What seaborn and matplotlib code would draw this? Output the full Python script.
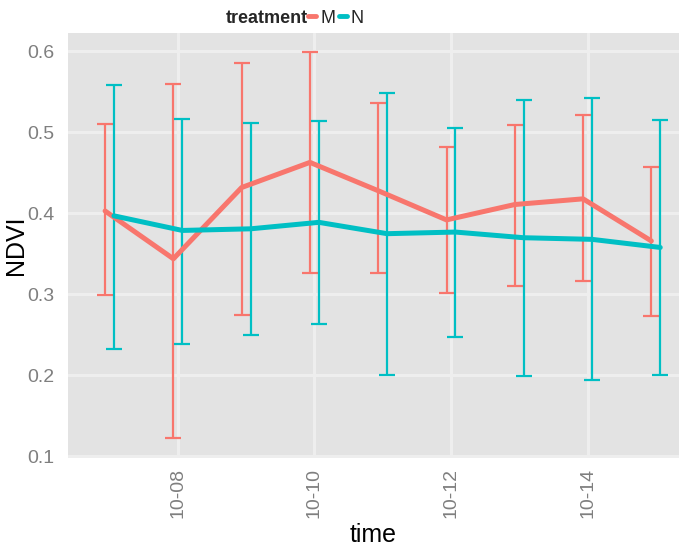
import matplotlib
matplotlib.use("Agg")
import matplotlib.pyplot as plt
import matplotlib.dates as mdates
from matplotlib.lines import Line2D
import numpy as np
import pandas as pd
import seaborn as sns

dates = ["2015-10-07", "2015-10-08", "2015-10-09", "2015-10-10", "2015-10-11",
         "2015-10-12", "2015-10-13", "2015-10-14", "2015-10-15"]
m_mean = [0.403, 0.344, 0.432, 0.463, 0.428, 0.392, 0.411, 0.418, 0.366]
m_low = [0.299, 0.123, 0.275, 0.327, 0.326, 0.302, 0.311, 0.316, 0.274]
m_high = [0.510, 0.560, 0.586, 0.599, 0.536, 0.482, 0.509, 0.521, 0.457]
n_mean = [0.397, 0.379, 0.381, 0.389, 0.375, 0.377, 0.370, 0.368, 0.358]
n_low = [0.233, 0.239, 0.250, 0.264, 0.200, 0.248, 0.199, 0.195, 0.201]
n_high = [0.559, 0.517, 0.511, 0.514, 0.549, 0.505, 0.540, 0.542, 0.515]

colors = {"M": "#F8766D", "N": "#00BFC4"}
dodge = {"M": -0.065, "N": 0.065}

t = pd.to_datetime(dates)
rows = []
for trt, mean, lo, hi in [("M", m_mean, m_low, m_high), ("N", n_mean, n_low, n_high)]:
    for d, mu, l, h in zip(t, mean, lo, hi):
        rows.append({"time": d + pd.Timedelta(days=dodge[trt]), "NDVI": mu,
                     "low": l, "high": h, "treatment": trt})
df = pd.DataFrame(rows)

sns.set_theme(style="darkgrid")
plt.rcParams["font.family"] = ["Liberation Sans", "DejaVu Sans"]
fig = plt.figure(figsize=(6.79, 5.46), dpi=100)
ax = fig.add_axes([0.100, 0.161, 0.900, 0.779])
ax.set_facecolor("#E3E3E3")

for trt in ["M", "N"]:
    sub = df[df.treatment == trt]
    x = mdates.date2num(sub["time"])
    ax.errorbar(x, sub["NDVI"],
                yerr=[sub["NDVI"] - sub["low"], sub["high"] - sub["NDVI"]],
                fmt="none", ecolor=colors[trt], elinewidth=1.6, capsize=6,
                capthick=1.6, zorder=3)

sns.lineplot(data=df, x="time", y="NDVI", hue="treatment", palette=colors,
             linewidth=3.6, ax=ax, legend=False, zorder=4, estimator=None)

x0 = mdates.date2num(t[0]) - 0.61
x1 = mdates.date2num(t[-1]) + 0.34
ax.set_xlim(x0, x1)
ax.set_ylim(0.098, 0.623)
ax.xaxis.set_major_locator(mdates.DayLocator(bymonthday=[8, 10, 12, 14]))
ax.xaxis.set_major_formatter(mdates.DateFormatter("%m-%d"))
ax.set_yticks([0.1, 0.2, 0.3, 0.4, 0.5, 0.6])
ax.set_yticklabels(["0.1", "0.2", "0.3", "0.4", "0.5", "0.6"])
ax.grid(which="major", color="#EEEEEE", linewidth=2.2)
ax.grid(which="minor", visible=False)
for s in ax.spines.values():
    s.set_visible(False)
ax.tick_params(axis="both", which="major", labelsize=14, labelcolor="#7F7F7F",
               color="#BBBBBB", length=4, width=0.8, pad=3)
ax.tick_params(axis="y", pad=6)
ax.tick_params(axis="both", which="minor", length=0)
ax.tick_params(axis="x", labelrotation=90)
ax.set_xlabel("time", fontsize=18, color="black")
ax.set_ylabel("NDVI", fontsize=18, color="black")
ax.xaxis.set_label_coords(0.5, -0.152)
ax.yaxis.set_label_coords(-0.066, 0.5)

fig.text(0.454, 0.967, "treatment", fontsize=13, fontweight="bold",
         ha="right", va="center")
handles = [Line2D([0], [0], color=colors["M"], linewidth=3.5),
           Line2D([0], [0], color=colors["N"], linewidth=3.5)]
fig.legend(handles, ["M", "N"], loc="center left", bbox_to_anchor=(0.454, 0.967),
           ncol=2, frameon=False, fontsize=13, handlelength=0.45,
           handletextpad=0.2, columnspacing=0.2, borderpad=0, borderaxespad=0)

fig.savefig("out.png", dpi=100)
